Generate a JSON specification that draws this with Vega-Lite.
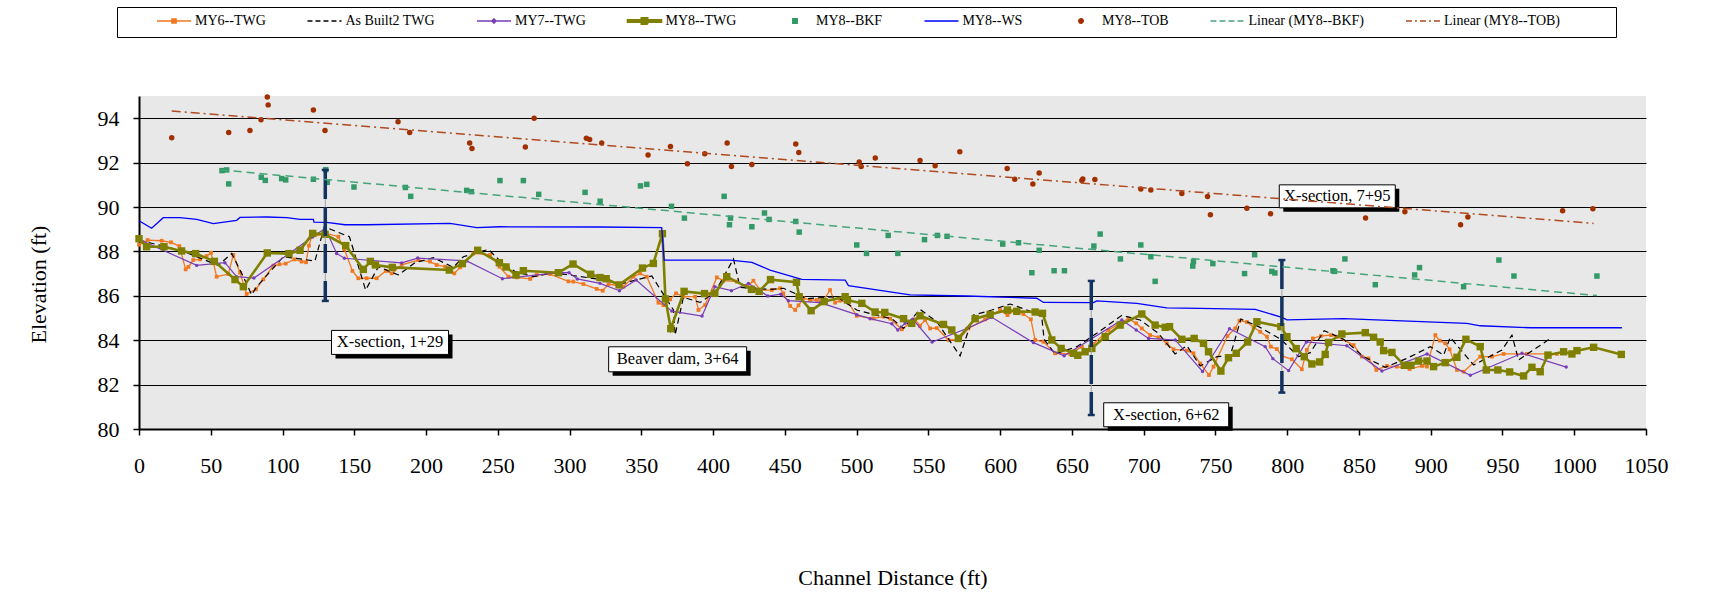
{
"$schema": "https://vega.github.io/schema/vega-lite/v6.json",
"width": 1507, "height": 333,
"autosize": {"type": "none"},
"padding": {"left": 139, "top": 96, "right": 79, "bottom": 176},
"background": "white",
"config": {
  "font": "Liberation Serif",
  "view": {"fill": "#e8e8e8", "stroke": null},
  "axis": {"labelFont": "Liberation Serif", "titleFont": "Liberation Serif", "labelColor": "#000", "titleColor": "#000", "domainColor": "#000", "tickColor": "#000", "titleFontWeight": "normal", "labelFontSize": 22, "titleFontSize": 22, "tickSize": 6, "domainWidth": 2, "tickWidth": 1.5},
  "legend": {"labelFont": "Liberation Serif", "labelFontSize": 14, "labelColor": "#000", "strokeColor": "#000", "fillColor": "#fff", "padding": 0, "symbolSize": 676, "symbolStrokeWidth": 1.5, "labelOffset": 7, "columnPadding": 37.5, "rowPadding": 0, "labelLimit": 400}
},
"datasets": {
"my6": [{"x":0,"y":88.30},{"x":6,"y":88.51},{"x":15.8,"y":88.48},{"x":22.3,"y":88.41},{"x":28.1,"y":88.24},{"x":32.5,"y":87.19},{"x":34.4,"y":87.30},{"x":37.8,"y":87.61},{"x":42.5,"y":87.64},{"x":47.1,"y":87.79},{"x":50.2,"y":87.94},{"x":54.1,"y":86.86},{"x":62.2,"y":86.98},{"x":65.7,"y":87.84},{"x":70.4,"y":87.04},{"x":75,"y":86.08},{"x":81.5,"y":86.29},{"x":86.6,"y":86.74},{"x":93.6,"y":87.36},{"x":97.8,"y":87.42},{"x":102.2,"y":87.45},{"x":108.2,"y":87.64},{"x":113.3,"y":87.54},{"x":116.4,"y":87.51},{"x":118.4,"y":88.26},{"x":120.3,"y":88.66},{"x":130.8,"y":88.81},{"x":138.9,"y":88.66},{"x":143.1,"y":88.09},{"x":148.7,"y":87.12},{"x":152.8,"y":86.79},{"x":158.6,"y":86.79},{"x":165.6,"y":86.79},{"x":171.9,"y":87.12},{"x":176.1,"y":87.01},{"x":183,"y":87.39},{"x":194.6,"y":87.61},{"x":202.8,"y":87.54},{"x":207.4,"y":87.39},{"x":213.2,"y":87.31},{"x":219.7,"y":87.01},{"x":223.7,"y":87.28},{"x":233,"y":87.91},{"x":244.6,"y":87.84},{"x":251.1,"y":87.31},{"x":257.4,"y":86.86},{"x":263.2,"y":86.83},{"x":272.5,"y":86.76},{"x":277.1,"y":86.94},{"x":286.4,"y":86.98},{"x":299.2,"y":86.65},{"x":302.6,"y":86.64},{"x":309.6,"y":86.53},{"x":318.9,"y":86.31},{"x":323.1,"y":86.23},{"x":327.1,"y":86.53},{"x":337.5,"y":86.41},{"x":344.5,"y":86.86},{"x":349.1,"y":87.01},{"x":353.8,"y":86.86},{"x":361.9,"y":85.69},{"x":365.4,"y":85.58},{"x":370.1,"y":85.84},{"x":374.2,"y":86.11},{"x":379.3,"y":85.96},{"x":387.5,"y":85.96},{"x":389.8,"y":85.36},{"x":394.4,"y":85.58},{"x":402.6,"y":86.83},{"x":407.2,"y":86.68},{"x":416.5,"y":86.64},{"x":423.5,"y":86.41},{"x":428.1,"y":86.68},{"x":432.8,"y":86.26},{"x":440.9,"y":86.26},{"x":446.7,"y":86.34},{"x":449,"y":86.11},{"x":453.7,"y":85.54},{"x":457.2,"y":85.36},{"x":459.5,"y":85.57},{"x":463,"y":85.89},{"x":467.6,"y":85.81},{"x":472.3,"y":85.81},{"x":476.9,"y":85.81},{"x":481.5,"y":86.26},{"x":485,"y":85.69},{"x":488.5,"y":85.78},{"x":494.3,"y":85.70},{"x":500.1,"y":85.10},{"x":511.7,"y":84.98},{"x":518.7,"y":85.06},{"x":523.4,"y":84.97},{"x":531.5,"y":84.49},{"x":540.8,"y":84.94},{"x":544.2,"y":84.65},{"x":547.7,"y":84.91},{"x":551.2,"y":84.53},{"x":555.9,"y":84.55},{"x":564,"y":84.01},{"x":571,"y":84.01},{"x":577.9,"y":84.53},{"x":589.5,"y":84.94},{"x":600,"y":85.36},{"x":605.1,"y":85.13},{"x":610.4,"y":85.36},{"x":616.2,"y":85.18},{"x":621.4,"y":84.94},{"x":624.4,"y":84.01},{"x":630.2,"y":83.93},{"x":638.3,"y":83.41},{"x":648.8,"y":83.38},{"x":656.9,"y":83.71},{"x":660.4,"y":83.53},{"x":665,"y":83.83},{"x":675.5,"y":84.46},{"x":683.6,"y":84.76},{"x":689.4,"y":84.98},{"x":694.8,"y":84.76},{"x":698.7,"y":84.53},{"x":704.5,"y":84.23},{"x":710.3,"y":84.13},{"x":716.1,"y":83.86},{"x":720.8,"y":83.59},{"x":730.1,"y":83.53},{"x":734.7,"y":83.41},{"x":739.4,"y":82.95},{"x":745.5,"y":82.43},{"x":748.7,"y":82.81},{"x":758.4,"y":84.19},{"x":763.8,"y":84.53},{"x":766.8,"y":84.88},{"x":771.9,"y":84.82},{"x":776.6,"y":84.58},{"x":781.2,"y":84.38},{"x":785.9,"y":84.16},{"x":788.6,"y":83.71},{"x":792.8,"y":83.60},{"x":796.3,"y":83.29},{"x":803.3,"y":83.14},{"x":810.2,"y":82.69},{"x":813.7,"y":83.56},{"x":817.9,"y":84.08},{"x":823.5,"y":84.19},{"x":830.5,"y":84.23},{"x":834.6,"y":84.16},{"x":846.3,"y":83.78},{"x":852.1,"y":83.26},{"x":856.7,"y":83.18},{"x":862.1,"y":82.66},{"x":869.5,"y":82.84},{"x":876.4,"y":82.81},{"x":885.3,"y":82.70},{"x":893.9,"y":82.84},{"x":897.4,"y":82.81},{"x":903.2,"y":84.23},{"x":906.2,"y":83.98},{"x":910.1,"y":83.86},{"x":913.2,"y":83.59},{"x":918.3,"y":82.66},{"x":922.9,"y":82.58},{"x":934.5,"y":83.26},{"x":942.7,"y":83.26},{"x":950.8,"y":83.38},{"x":967,"y":83.38},{"x":987.9,"y":83.38}],
"ab": [{"x":0,"y":88.51},{"x":29.7,"y":88.03},{"x":55.3,"y":87.37},{"x":64.6,"y":87.91},{"x":72.7,"y":86.86},{"x":78.5,"y":86.04},{"x":82,"y":86.41},{"x":100.6,"y":87.76},{"x":122.6,"y":87.57},{"x":129.1,"y":89.11},{"x":146.6,"y":88.66},{"x":157.9,"y":86.26},{"x":166.8,"y":87.31},{"x":180.7,"y":86.94},{"x":192.3,"y":87.49},{"x":205.1,"y":87.72},{"x":219,"y":87.28},{"x":226,"y":87.76},{"x":243.4,"y":88.09},{"x":251.5,"y":87.58},{"x":262,"y":87.09},{"x":274.8,"y":86.86},{"x":288.7,"y":87.04},{"x":321.2,"y":86.74},{"x":335.2,"y":86.53},{"x":357.3,"y":86.89},{"x":372.4,"y":85.36},{"x":373.5,"y":84.23},{"x":379.3,"y":85.93},{"x":391,"y":85.70},{"x":401.4,"y":86.16},{"x":414.2,"y":87.66},{"x":418.8,"y":86.38},{"x":439.7,"y":86.29},{"x":449,"y":86.34},{"x":454.8,"y":86.17},{"x":465.3,"y":85.87},{"x":486.2,"y":85.96},{"x":500.1,"y":85.36},{"x":514.1,"y":85.12},{"x":524.5,"y":84.97},{"x":532.7,"y":84.53},{"x":544.2,"y":85.39},{"x":555.9,"y":84.83},{"x":572.1,"y":83.29},{"x":581.4,"y":85.13},{"x":594.2,"y":85.36},{"x":607,"y":85.63},{"x":622.1,"y":85.28},{"x":629,"y":85.06},{"x":630.6,"y":84.04},{"x":638.3,"y":83.38},{"x":653.4,"y":83.71},{"x":667.3,"y":84.31},{"x":684.8,"y":85.12},{"x":697.5,"y":84.91},{"x":710.3,"y":84.31},{"x":721.9,"y":83.38},{"x":730.1,"y":83.75},{"x":739.4,"y":82.84},{"x":751,"y":83.26},{"x":760.3,"y":83.29},{"x":767.7,"y":84.95},{"x":780.1,"y":84.61},{"x":795.6,"y":84.04},{"x":807.9,"y":83.26},{"x":816.1,"y":83.44},{"x":825.8,"y":84.43},{"x":839.3,"y":84.04},{"x":853.2,"y":83.26},{"x":868.3,"y":82.78},{"x":883.4,"y":83.18},{"x":899.7,"y":83.71},{"x":909,"y":83.33},{"x":913.6,"y":84.13},{"x":929.9,"y":82.88},{"x":949.6,"y":83.56},{"x":956.6,"y":84.23},{"x":961.2,"y":83.11},{"x":984.5,"y":84.13}],
"my7": [{"x":0,"y":88.54},{"x":40.2,"y":87.37},{"x":59.9,"y":87.49},{"x":68,"y":86.86},{"x":80.1,"y":86.80},{"x":104,"y":87.87},{"x":121,"y":88.66},{"x":129.8,"y":89.04},{"x":137.7,"y":87.91},{"x":143.1,"y":87.69},{"x":183,"y":87.48},{"x":194.2,"y":87.70},{"x":228.3,"y":87.57},{"x":253.2,"y":86.77},{"x":292.2,"y":87.04},{"x":299.6,"y":87.04},{"x":305.4,"y":86.76},{"x":321.2,"y":86.56},{"x":334.7,"y":86.23},{"x":346.4,"y":86.71},{"x":371.2,"y":85.31},{"x":392.3,"y":85.09},{"x":401.2,"y":86.41},{"x":412.8,"y":86.23},{"x":424.6,"y":86.56},{"x":438.1,"y":85.99},{"x":447.2,"y":86.07},{"x":452.5,"y":85.78},{"x":474.6,"y":85.69},{"x":500.1,"y":85.15},{"x":509.4,"y":84.97},{"x":524.5,"y":84.74},{"x":528.7,"y":84.46},{"x":533.8,"y":84.76},{"x":539.1,"y":84.95},{"x":552.6,"y":83.92},{"x":576.8,"y":84.53},{"x":594.2,"y":85.03},{"x":623.2,"y":83.89},{"x":644.6,"y":83.30},{"x":684.8,"y":84.91},{"x":694.8,"y":84.46},{"x":703.4,"y":84.08},{"x":722,"y":84.01},{"x":741,"y":82.59},{"x":759.8,"y":84.52},{"x":784.7,"y":83.71},{"x":790,"y":83.17},{"x":801,"y":82.63},{"x":813.3,"y":83.92},{"x":841.6,"y":83.75},{"x":866,"y":82.61},{"x":897.4,"y":83.38},{"x":927.6,"y":82.42},{"x":963.6,"y":83.41},{"x":994.4,"y":82.79}],
"my8": [{"x":0,"y":88.57},{"x":5.3,"y":88.21},{"x":17.4,"y":88.21},{"x":29.7,"y":88.02},{"x":39.5,"y":87.90},{"x":52.5,"y":87.55},{"x":66.9,"y":86.73},{"x":72.7,"y":86.41},{"x":89.4,"y":87.93},{"x":104.5,"y":87.90},{"x":112.2,"y":88.05},{"x":121,"y":88.81},{"x":129.6,"y":88.77},{"x":144,"y":88.26},{"x":156.3,"y":87.19},{"x":161.2,"y":87.55},{"x":164.7,"y":87.39},{"x":176.5,"y":87.28},{"x":216.2,"y":87.16},{"x":225.3,"y":87.45},{"x":236,"y":88.05},{"x":251.1,"y":87.49},{"x":255.7,"y":87.30},{"x":262.7,"y":86.94},{"x":267.8,"y":87.13},{"x":292.2,"y":87.04},{"x":302.4,"y":87.43},{"x":314.7,"y":86.97},{"x":321.2,"y":86.82},{"x":325.5,"y":86.77},{"x":334.5,"y":86.49},{"x":350.8,"y":87.25},{"x":358.4,"y":87.46},{"x":364.7,"y":88.80},{"x":366.8,"y":85.86},{"x":370.5,"y":84.52},{"x":379.8,"y":86.20},{"x":394,"y":86.10},{"x":401.2,"y":86.11},{"x":409.5,"y":86.86},{"x":426.7,"y":86.29},{"x":432.1,"y":86.20},{"x":440,"y":86.73},{"x":458.1,"y":86.61},{"x":460,"y":85.96},{"x":468.3,"y":85.33},{"x":477.4,"y":85.74},{"x":492,"y":85.96},{"x":493.6,"y":85.81},{"x":503.6,"y":85.66},{"x":512.9,"y":85.27},{"x":519.6,"y":85.25},{"x":532.7,"y":84.97},{"x":538.4,"y":84.76},{"x":544.2,"y":85.10},{"x":560.5,"y":84.71},{"x":566.3,"y":84.46},{"x":570.9,"y":84.08},{"x":582.6,"y":84.97},{"x":593,"y":85.16},{"x":605.1,"y":85.36},{"x":611.6,"y":85.30},{"x":624.4,"y":85.27},{"x":629.5,"y":85.21},{"x":636,"y":84.01},{"x":642.5,"y":83.63},{"x":651.1,"y":83.41},{"x":654.1,"y":83.32},{"x":659.2,"y":83.48},{"x":663.9,"y":83.63},{"x":673.2,"y":84.16},{"x":683.6,"y":84.68},{"x":698.7,"y":85.18},{"x":708,"y":84.68},{"x":715,"y":84.58},{"x":718,"y":84.61},{"x":726.6,"y":84.04},{"x":735.2,"y":84.08},{"x":741.7,"y":83.86},{"x":745.2,"y":83.48},{"x":753.8,"y":82.61},{"x":759.1,"y":83.21},{"x":764.5,"y":83.41},{"x":772.4,"y":83.92},{"x":778.9,"y":84.83},{"x":795.6,"y":84.61},{"x":799.8,"y":84.16},{"x":806.3,"y":83.62},{"x":811.9,"y":83.26},{"x":817.2,"y":82.93},{"x":822.6,"y":83.02},{"x":826.5,"y":83.36},{"x":828.8,"y":83.90},{"x":838.1,"y":84.28},{"x":854.4,"y":84.34},{"x":860.2,"y":84.13},{"x":864.8,"y":83.92},{"x":867.2,"y":83.53},{"x":873,"y":83.45},{"x":881.6,"y":82.87},{"x":886.2,"y":82.87},{"x":891.5,"y":83.06},{"x":897.4,"y":83.06},{"x":902,"y":82.81},{"x":910.1,"y":82.99},{"x":918.3,"y":83.23},{"x":924.5,"y":84.04},{"x":934.5,"y":83.71},{"x":938.7,"y":82.66},{"x":946.8,"y":82.66},{"x":955,"y":82.57},{"x":964.7,"y":82.39},{"x":970.5,"y":82.78},{"x":976.3,"y":82.58},{"x":981.7,"y":83.33},{"x":992.6,"y":83.48},{"x":998.4,"y":83.38},{"x":1001.9,"y":83.53},{"x":1013.5,"y":83.68},{"x":1032.8,"y":83.36}],
"bkf": [{"x":57.8,"y":91.64},{"x":61.1,"y":91.67},{"x":62.5,"y":91.04},{"x":85.2,"y":91.34},{"x":88,"y":91.20},{"x":99.4,"y":91.28},{"x":102.2,"y":91.22},{"x":121.5,"y":91.25},{"x":130.1,"y":91.68},{"x":131.2,"y":91.11},{"x":149.8,"y":90.90},{"x":185.6,"y":90.88},{"x":189.3,"y":90.48},{"x":228.3,"y":90.75},{"x":231.6,"y":90.69},{"x":251.5,"y":91.19},{"x":267.8,"y":91.19},{"x":278.5,"y":90.57},{"x":310.8,"y":90.66},{"x":321.3,"y":90.26},{"x":349.4,"y":90.95},{"x":353.8,"y":91.02},{"x":371,"y":90.03},{"x":380,"y":89.50},{"x":407.7,"y":90.48},{"x":411.4,"y":89.20},{"x":412.1,"y":89.50},{"x":427,"y":89.11},{"x":435.8,"y":89.73},{"x":439,"y":89.44},{"x":457.6,"y":89.35},{"x":460,"y":88.87},{"x":500.1,"y":88.29},{"x":506.9,"y":87.91},{"x":522,"y":88.72},{"x":528.7,"y":87.91},{"x":547.3,"y":88.53},{"x":556.3,"y":88.72},{"x":563,"y":88.68},{"x":601.8,"y":88.33},{"x":612.8,"y":88.39},{"x":622.1,"y":87.04},{"x":627.2,"y":88.05},{"x":637.6,"y":87.13},{"x":644.8,"y":87.13},{"x":665.3,"y":88.24},{"x":669.7,"y":88.78},{"x":683.8,"y":87.66},{"x":698,"y":88.29},{"x":705,"y":87.76},{"x":708,"y":86.65},{"x":734.2,"y":87.34},{"x":734.7,"y":87.54},{"x":748.2,"y":87.45},{"x":770.3,"y":87.00},{"x":777.3,"y":87.85},{"x":789.3,"y":87.10},{"x":791.4,"y":87.03},{"x":831.9,"y":87.13},{"x":833,"y":87.10},{"x":840.2,"y":87.66},{"x":861.4,"y":86.50},{"x":888.8,"y":86.94},{"x":892.2,"y":87.27},{"x":922.9,"y":86.41},{"x":947.5,"y":87.61},{"x":958,"y":86.89},{"x":1015.8,"y":86.89}],
"ws": [{"x":0,"y":89.38},{"x":8.8,"y":89.04},{"x":16.9,"y":89.52},{"x":28.5,"y":89.52},{"x":40.2,"y":89.44},{"x":51.8,"y":89.25},{"x":68,"y":89.40},{"x":70.4,"y":89.53},{"x":89,"y":89.55},{"x":102.9,"y":89.52},{"x":112.2,"y":89.44},{"x":121.5,"y":89.44},{"x":121.9,"y":89.32},{"x":130.8,"y":89.31},{"x":143.5,"y":89.20},{"x":158.6,"y":89.20},{"x":216.7,"y":89.26},{"x":235.3,"y":89.07},{"x":251.5,"y":89.11},{"x":321.2,"y":89.10},{"x":364.2,"y":89.07},{"x":365.9,"y":87.61},{"x":411.9,"y":87.61},{"x":427,"y":87.51},{"x":439.7,"y":87.16},{"x":461.8,"y":86.74},{"x":492,"y":86.71},{"x":494.3,"y":86.46},{"x":537.3,"y":86.04},{"x":576.8,"y":85.99},{"x":625.5,"y":85.89},{"x":630.2,"y":85.70},{"x":665,"y":85.69},{"x":667.3,"y":85.77},{"x":695.2,"y":85.66},{"x":716.1,"y":85.46},{"x":739.4,"y":85.43},{"x":777.7,"y":85.39},{"x":796.3,"y":85.03},{"x":799.8,"y":84.92},{"x":839.3,"y":84.97},{"x":925.2,"y":84.76},{"x":934.5,"y":84.65},{"x":969.4,"y":84.56},{"x":1033.2,"y":84.56}],
"tob": [{"x":22.8,"y":93.12},{"x":62.5,"y":93.36},{"x":77.3,"y":93.45},{"x":85,"y":93.93},{"x":89.4,"y":94.95},{"x":90,"y":94.60},{"x":121.5,"y":94.37},{"x":129.6,"y":93.45},{"x":180.5,"y":93.84},{"x":188.6,"y":93.36},{"x":230.4,"y":92.88},{"x":232,"y":92.64},{"x":269.2,"y":92.70},{"x":275.3,"y":94.00},{"x":311.7,"y":93.10},{"x":314,"y":93.04},{"x":322.4,"y":92.88},{"x":354.7,"y":92.34},{"x":370.3,"y":92.73},{"x":382.1,"y":91.95},{"x":394.2,"y":92.40},{"x":409.8,"y":92.88},{"x":412.8,"y":91.82},{"x":427,"y":91.91},{"x":457.6,"y":92.84},{"x":459.7,"y":92.45},{"x":501.8,"y":92.03},{"x":503.2,"y":91.82},{"x":513,"y":92.21},{"x":544.2,"y":92.10},{"x":554.7,"y":91.86},{"x":571.9,"y":92.49},{"x":604.9,"y":91.73},{"x":610.2,"y":91.25},{"x":622.8,"y":91.04},{"x":627.2,"y":91.53},{"x":656.9,"y":91.19},{"x":657.6,"y":91.26},{"x":666,"y":91.24},{"x":698,"y":90.81},{"x":705,"y":90.77},{"x":726.6,"y":90.61},{"x":744.5,"y":90.47},{"x":746.5,"y":89.65},{"x":771.9,"y":89.94},{"x":788.4,"y":89.70},{"x":854.6,"y":89.50},{"x":882,"y":89.79},{"x":920.8,"y":89.20},{"x":925.9,"y":89.55},{"x":991.9,"y":89.83},{"x":1013,"y":89.92}],
"lbkf": [{"x":56.9,"y":91.67},{"x":1015.8,"y":86.01}],
"ltob": [{"x":22.8,"y":94.32},{"x":1013.5,"y":89.26}],
"xsec": [{"x":129.8,"y":91.67,"y2":85.77},{"x":663.5,"y":86.67,"y2":80.63},{"x":796.3,"y":87.61,"y2":81.64}],
"labels": [{"label":"X-section, 1+29","x":174.9,"y":83.90},{"label":"Beaver dam, 3+64","x":375.3,"y":83.14},{"label":"X-section, 6+62","x":715.7,"y":80.64},{"label":"X-section, 7+95","x":834.9,"y":90.48}]
},
"encoding": {
  "x": {"field": "x", "type": "quantitative", "scale": {"domain": [0, 1050], "nice": false, "zero": false},
        "axis": {"values": [0,50,100,150,200,250,300,350,400,450,500,550,600,650,700,750,800,850,900,950,1000,1050], "format": "d", "grid": false, "labelPadding": 20, "labelFlush": false, "title": "Channel Distance (ft)", "titleFontSize": 22, "titleY": 148, "titleBaseline": "middle"}},
  "y": {"field": "y", "type": "quantitative", "scale": {"domain": [80, 95], "nice": false, "zero": false},
        "axis": {"values": [80,82,84,86,88,90,92,94], "grid": true, "gridColor": "#000", "gridWidth": 1, "labelPadding": 14, "title": "Elevation (ft)", "titleX": -101, "titleY": 188, "titleAngle": -90, "titleBaseline": "middle", "titleAlign": "center"}}
},
"resolve": {"scale": {"shape": "independent"}},
"layer": [
  {"data": {"name": "my6"}, "mark": {"type": "line", "strokeWidth": 1.3},
   "encoding": {"color": {"datum": "MY6--TWG", "type": "nominal",
     "scale": {"domain": ["MY6--TWG","As Built2 TWG","MY7--TWG","MY8--TWG","MY8--BKF","MY8--WS","MY8--TOB","Linear(MY8--BKF)","Linear(MY8--TOB)"],
               "range": ["#F07820","#000000","#7A3DB8","#808000","#339966","#0000FF","#A03000","#45A57A","#B04A20"]},
     "legend": {"orient": "none", "legendX": -22, "legendY": -89, "direction": "horizontal", "columns": 9,
       "title": " ", "titleOrient": "left", "titlePadding": 43, "titleFontSize": 2,
       "labelExpr": "replace(datum.label, 'Linear(', 'Linear (') + (datum.label == 'Linear(MY8--TOB)' ? '\u00a0\u00a0\u00a0\u00a0\u00a0\u00a0\u00a0\u00a0\u00a0\u00a0\u00a0\u00a0\u00a0\u00a0\u00a0\u00a0\u200b' : '')",
       "encode": {"symbols": {"update": {
         "shape": {"signal": "'M-1.31,-1M1.31,1' + (datum.value === 'MY6--TWG' ? 'M-1.31,0H1.31M-0.16,-0.16H0.16V0.16H-0.16Z' : datum.value === 'MY7--TWG' ? 'M-1.31,0H1.31M-0.16,0L0,-0.16L0.16,0L0,0.16Z' : datum.value === 'MY8--TWG' ? 'M-1.31,-0.09H1.31V0.09H-1.31ZM-0.25,-0.25H0.25V0.25H-0.25Z' : datum.value === 'MY8--BKF' ? 'M-0.17,-0.17H0.17V0.17H-0.17Z' : datum.value === 'MY8--TOB' ? 'M0.17,0A0.17,0.17,0,1,1,-0.17,0A0.17,0.17,0,1,1,0.17,0Z' : 'M-1.31,0H1.31')"},
         "strokeDash": {"signal": "datum.value === 'As Built2 TWG' ? [5,3] : datum.value === 'Linear(MY8--BKF)' ? [6,3] : datum.value === 'Linear(MY8--TOB)' ? [6,3,2,3] : [1,0]"},
         "fill": {"scale": "color", "field": "value"},
         "stroke": {"scale": "color", "field": "value"},
         "opacity": {"value": 1}}}}}}}},
  {"data": {"name": "my6"}, "mark": {"type": "point", "shape": "square", "filled": true, "size": 14, "opacity": 1},
   "encoding": {"color": {"datum": "MY6--TWG", "type": "nominal"}}},
  {"data": {"name": "ab"}, "mark": {"type": "line", "strokeWidth": 1.2, "strokeDash": [6, 4]},
   "encoding": {"color": {"datum": "As Built2 TWG", "type": "nominal"}}},
  {"data": {"name": "my7"}, "mark": {"type": "line", "strokeWidth": 1.2},
   "encoding": {"color": {"datum": "MY7--TWG", "type": "nominal"}}},
  {"data": {"name": "my7"}, "mark": {"type": "point", "shape": "circle", "filled": true, "size": 12, "opacity": 1},
   "encoding": {"color": {"datum": "MY7--TWG", "type": "nominal"}}},
  {"data": {"name": "my8"}, "mark": {"type": "line", "strokeWidth": 2.6},
   "encoding": {"color": {"datum": "MY8--TWG", "type": "nominal"}}},
  {"data": {"name": "my8"}, "mark": {"type": "point", "shape": "square", "filled": true, "size": 55, "opacity": 1},
   "encoding": {"color": {"datum": "MY8--TWG", "type": "nominal"}}},
  {"data": {"name": "bkf"}, "mark": {"type": "point", "shape": "square", "filled": true, "size": 30, "opacity": 1},
   "encoding": {"color": {"datum": "MY8--BKF", "type": "nominal"}}},
  {"data": {"name": "ws"}, "mark": {"type": "line", "strokeWidth": 1.3},
   "encoding": {"color": {"datum": "MY8--WS", "type": "nominal"}}},
  {"data": {"name": "tob"}, "mark": {"type": "point", "shape": "circle", "filled": true, "size": 30, "opacity": 1},
   "encoding": {"color": {"datum": "MY8--TOB", "type": "nominal"}}},
  {"data": {"name": "xsec"}, "mark": {"type": "rule", "color": "#a0a0a0", "strokeWidth": 1},
   "encoding": {"y2": {"field": "y2"}}},
  {"data": {"name": "xsec"}, "mark": {"type": "rule", "color": "#14325F", "strokeWidth": 3.5, "strokeDash": [29, 8]},
   "encoding": {"y2": {"field": "y2"}}},
  {"data": {"name": "xsec"}, "mark": {"type": "point", "shape": "M-1,0H1", "filled": false, "size": 49, "color": "#14325F", "strokeWidth": 2.5, "opacity": 1},
   "encoding": {}},
  {"data": {"name": "xsec"}, "mark": {"type": "point", "shape": "M-1,0H1", "filled": false, "size": 49, "color": "#14325F", "strokeWidth": 2.5, "opacity": 1},
   "encoding": {"y": {"field": "y2", "type": "quantitative", "title": "Elevation (ft)"}}},
  {"data": {"name": "labels"}, "mark": {"type": "point", "filled": true, "fill": "#000", "stroke": null, "size": 4, "opacity": 1},
   "encoding": {"shape": {"field": "label", "type": "nominal", "legend": null,
     "scale": {"domain": ["X-section, 1+29","Beaver dam, 3+64","X-section, 6+62","X-section, 7+95"],
               "range": ["M-54.5,-8H62.5V16H-54.5Z","M-65,-8.5H73V16.5H-65Z","M-58.5,-8H66.5V16H-58.5Z","M-54,-7.5H62V15.5H-54Z"]}}}},
  {"data": {"name": "labels"}, "mark": {"type": "point", "filled": true, "fill": "#fff", "stroke": "#000", "strokeWidth": 1, "size": 4, "opacity": 1},
   "encoding": {"shape": {"field": "label", "type": "nominal", "legend": null,
     "scale": {"domain": ["X-section, 1+29","Beaver dam, 3+64","X-section, 6+62","X-section, 7+95"],
               "range": ["M-58.5,-12H58.5V12H-58.5Z","M-69,-12.5H69V12.5H-69Z","M-62.5,-12H62.5V12H-62.5Z","M-58,-11.5H58V11.5H-58Z"]}}}},
  {"data": {"name": "labels"}, "mark": {"type": "text", "font": "Liberation Serif", "fontSize": 16.5, "color": "#000", "align": "center", "baseline": "middle"},
   "encoding": {"text": {"field": "label"}}},
  {"data": {"name": "lbkf"}, "mark": {"type": "line", "strokeWidth": 1.5, "strokeDash": [8, 5]},
   "encoding": {"color": {"datum": "Linear(MY8--BKF)", "type": "nominal"}}},
  {"data": {"name": "ltob"}, "mark": {"type": "line", "strokeWidth": 1.5, "strokeDash": [9, 4, 2, 4]},
   "encoding": {"color": {"datum": "Linear(MY8--TOB)", "type": "nominal"}}}
]
}
